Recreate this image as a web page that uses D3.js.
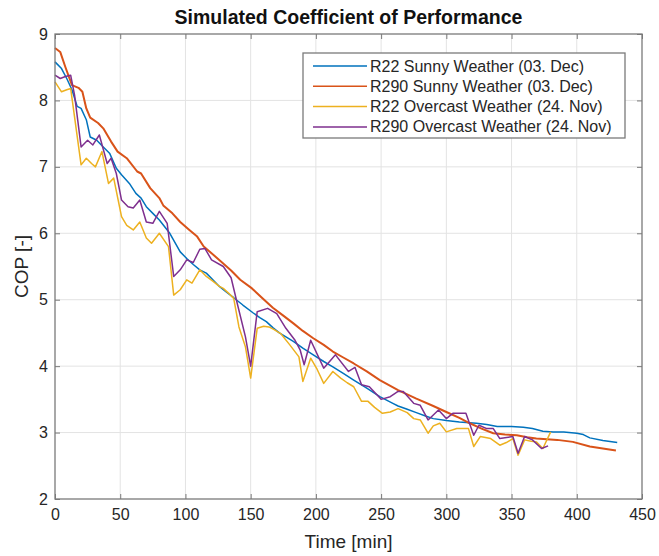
<!DOCTYPE html>
<html>
<head>
<meta charset="utf-8">
<script src="https://cdn.jsdelivr.net/npm/d3@7"></script>
<style>
  body { margin: 0; background: #fff; }
  text { font-family: "Liberation Sans", Arial, sans-serif; }
</style>
</head>
<body>
<div id="chart"></div>
<script>
// data (time in minutes, COP)
const r22SunnyTime = [0,5,9,13,17,20,24,27,32,37,42,47,51,57,62,66,70,75,80,88,96,101,106,111,116,121,126,131,137,144,152,157,162,167,172,183,190,198,206,213,221,229,239,249,259,263,270,277,284,290,300,310,323,331,339,350,359,366,374,382,390,400,405,410,420,431]
const r22Sunny = [8.58,8.48,8.33,8.16,7.91,7.88,7.71,7.45,7.40,7.30,7.20,6.98,6.88,6.75,6.60,6.53,6.40,6.30,6.20,6.00,5.72,5.62,5.53,5.45,5.40,5.30,5.20,5.12,5.03,4.92,4.80,4.73,4.67,4.58,4.50,4.37,4.27,4.17,4.07,3.99,3.89,3.79,3.67,3.54,3.44,3.40,3.35,3.30,3.25,3.21,3.18,3.16,3.14,3.12,3.09,3.09,3.08,3.06,3.02,3.01,3.01,2.99,2.97,2.92,2.88,2.85]

const r290SunnyTime = [0,4,8,13,18,21,24,27,33,37,43,48,55,63,66,73,80,83,90,96,103,109,114,120,127,135,142,151,158,167,175,183,190,198,206,213,221,229,239,249,263,277,290,300,310,318,327,336,345,354,362,369,377,385,397,410,420,430]
const r290Sunny = [8.79,8.73,8.50,8.23,8.19,8.13,7.88,7.74,7.66,7.58,7.38,7.23,7.13,6.93,6.90,6.68,6.53,6.42,6.30,6.17,6.05,5.95,5.80,5.70,5.58,5.44,5.30,5.17,5.04,4.88,4.76,4.64,4.53,4.42,4.32,4.22,4.13,4.04,3.92,3.79,3.64,3.51,3.40,3.31,3.22,3.14,3.06,2.99,2.97,2.96,2.93,2.91,2.90,2.89,2.86,2.79,2.76,2.73]

const r22OvercastTime = [0,5,9,12,20,24,28,31,36,41,45,51,55,60,65,70,74,80,87,91,96,101,105,111,116,121,126,129,133,137,141,146,150,155,160,164,168,173,180,187,190,196,201,206,213,219,224,229,235,240,245,251,257,263,270,275,280,286,290,295,300,308,317,321,326,334,341,346,351,355,360,365,369,374,380]
const r22Overcast = [8.28,8.13,8.16,8.18,7.03,7.13,7.05,7.00,7.23,6.75,6.83,6.25,6.12,6.05,6.17,5.93,5.85,6.00,5.80,5.07,5.15,5.30,5.25,5.45,5.35,5.28,5.20,5.17,5.10,5.02,4.59,4.29,3.82,4.57,4.60,4.59,4.55,4.49,4.32,4.14,3.77,4.12,3.95,3.74,3.92,3.82,3.75,3.69,3.47,3.47,3.38,3.29,3.31,3.36,3.30,3.21,3.19,2.99,3.10,3.14,3.01,3.06,3.06,2.79,2.94,2.91,2.81,2.85,2.91,2.66,2.89,2.87,2.86,2.76,3.01]

const r290OvercastTime = [0,4,8,12,15,20,25,29,34,40,43,47,51,56,60,65,70,75,80,86,91,96,101,106,111,115,120,129,135,140,146,150,155,163,170,177,184,188,191,196,206,215,225,230,235,241,250,257,263,267,275,280,286,294,300,305,315,321,325,331,336,341,351,355,360,366,373,378]
const r290Overcast = [8.38,8.33,8.36,8.38,8.08,7.30,7.40,7.33,7.48,7.05,7.13,6.90,6.50,6.40,6.38,6.50,6.17,6.15,6.33,6.15,5.35,5.45,5.60,5.56,5.76,5.77,5.60,5.50,5.33,4.92,4.44,4.00,4.82,4.87,4.79,4.57,4.39,4.24,4.02,4.39,3.97,4.17,3.92,3.98,3.72,3.69,3.50,3.54,3.62,3.62,3.44,3.41,3.19,3.34,3.21,3.29,3.29,2.96,3.11,3.06,3.06,2.91,2.94,2.69,2.94,2.89,2.76,2.80]

const seriesNames = ["R22 Sunny Weather (03. Dec)", "R290 Sunny Weather (03. Dec)", "R22 Overcast Weather (24. Nov)", "R290 Overcast Weather (24. Nov)"]
const xTicks = [0,50,100,150,200,250,300,350,400,450]
const yTicks = [2,3,4,5,6,7,8,9]

const colors = ["#0072BD", "#D95319", "#EDB120", "#7E2F8E"]
const widths = [1.5, 2, 1.5, 1.5]

const series = [
  [r22SunnyTime, r22Sunny],
  [r290SunnyTime, r290Sunny],
  [r22OvercastTime, r22Overcast],
  [r290OvercastTime, r290Overcast]
].map(([t, v]) => t.map((d, i) => ({ t: d, v: v[i] })))

const W = 659, H = 556
const plotLeft = 55, plotRight = 642, plotTop = 34, plotBottom = 499

const svg = d3.select("#chart").append("svg")
  .attr("width", W)
  .attr("height", H)

const x = d3.scaleLinear().domain([0, 450]).range([plotLeft, plotRight])
const y = d3.scaleLinear().domain([2, 9]).range([plotBottom, plotTop])

// GRID
svg.append("g").selectAll("line").data(xTicks.slice(1, -1)).enter().append("line")
  .attr("x1", d => x(d)).attr("x2", d => x(d))
  .attr("y1", plotTop).attr("y2", plotBottom)
  .attr("stroke", "#e3e3e3").attr("stroke-width", 1)
svg.append("g").selectAll("line").data(yTicks.slice(1, -1)).enter().append("line")
  .attr("y1", d => y(d)).attr("y2", d => y(d))
  .attr("x1", plotLeft).attr("x2", plotRight)
  .attr("stroke", "#e3e3e3").attr("stroke-width", 1)

// LINES
const line = d3.line().x(d => x(d.t)).y(d => y(d.v))
svg.append("g").selectAll("path").data(series).enter().append("path")
  .attr("d", line)
  .attr("fill", "none")
  .attr("stroke", (d, i) => colors[i])
  .attr("stroke-width", (d, i) => widths[i])
  .attr("stroke-linejoin", "round")

// AXES (ticks inside, on all four sides)
const axisColor = "#7a7a7a"
function styleAxis(g) {
  g.select(".domain").remove()
  g.selectAll(".tick line").attr("stroke", axisColor)
  g.selectAll(".tick text").attr("fill", "#262626").attr("font-size", 16)
}
svg.append("g").attr("transform", "translate(0," + plotBottom + ")")
  .call(d3.axisBottom(x).tickValues(xTicks).tickSizeInner(-5).tickPadding(10))
  .call(styleAxis)
svg.append("g").attr("transform", "translate(" + plotLeft + ",0)")
  .call(d3.axisLeft(y).tickValues(yTicks).tickFormat(d3.format("d")).tickSizeInner(-5).tickPadding(7))
  .call(styleAxis)
svg.append("g").attr("transform", "translate(0," + plotTop + ")")
  .call(d3.axisTop(x).tickValues(xTicks).tickSizeInner(-5).tickFormat(""))
  .call(styleAxis)
svg.append("g").attr("transform", "translate(" + plotRight + ",0)")
  .call(d3.axisRight(y).tickValues(yTicks).tickSizeInner(-5).tickFormat(""))
  .call(styleAxis)

svg.append("rect")
  .attr("x", plotLeft).attr("y", plotTop)
  .attr("width", plotRight - plotLeft).attr("height", plotBottom - plotTop)
  .attr("fill", "none").attr("stroke", axisColor).attr("stroke-width", 1.3)

// LABELS
svg.append("text")
  .attr("x", (plotLeft + plotRight) / 2).attr("y", 24)
  .attr("text-anchor", "middle")
  .attr("font-size", 19.5).attr("font-weight", "bold").attr("fill", "#111")
  .text("Simulated Coefficient of Performance")
svg.append("text")
  .attr("x", (plotLeft + plotRight) / 2).attr("y", 548)
  .attr("text-anchor", "middle")
  .attr("font-size", 19).attr("fill", "#262626")
  .text("Time [min]")
svg.append("text")
  .attr("transform", "translate(28," + ((plotTop + plotBottom) / 2) + ") rotate(-90)")
  .attr("text-anchor", "middle")
  .attr("font-size", 19).attr("fill", "#262626")
  .text("COP [-]")

// LEGEND
const legend = svg.append("g").attr("transform", "translate(303,53)")
legend.append("rect")
  .attr("width", 322).attr("height", 85)
  .attr("fill", "#fff").attr("stroke", axisColor).attr("stroke-width", 1.3)
const items = legend.selectAll("g.item").data(seriesNames).enter().append("g")
  .attr("transform", (d, i) => "translate(0," + (13 + i * 20.3) + ")")
items.append("line")
  .attr("x1", 10).attr("x2", 64)
  .attr("stroke", (d, i) => colors[i]).attr("stroke-width", 1.5)
items.append("text")
  .attr("x", 67).attr("y", 5.5)
  .attr("font-size", 16).attr("fill", "#262626")
  .text(d => d)
</script>
</body>
</html>
